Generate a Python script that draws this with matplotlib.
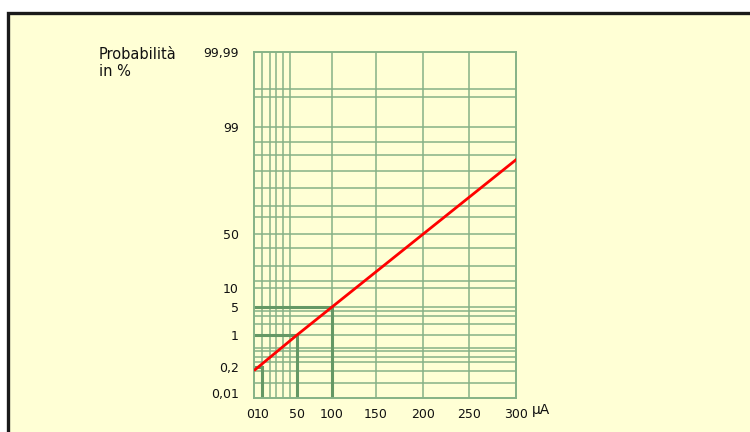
import numpy as np
import matplotlib.pyplot as plt
from matplotlib.patches import Rectangle

# scale calibration of the printed paper (value -> height/offset of the drawn axis)
x_cal_ua = [0, 10, 50, 100, 150, 200, 250, 300]
x_cal_pos = [0, 8, 43, 78, 122, 169, 215, 262]
y_cal_prob = [0, 0.01, 0.2, 1, 5, 10, 50, 99, 99.99]
y_cal_pos = [0, 5, 31, 63, 91, 110, 164, 271, 346]

# ticks
x_ticks = [0, 10, 50, 100, 150, 200, 250, 300]
x_labels = ['0', '10', '50', '100', '150', '200', '250', '300']
y_ticks = [0.01, 0.2, 1, 5, 10, 50, 99, 99.99]
y_labels = ['0,01', '0,2', '1', '5', '10', '50', '99', '99,99']

# paper grid lines
grid_ua = [10, 19, 26, 34, 42, 100, 150, 200, 250]
grid_prob = [99.5, 99.4, 99, 92, 86, 79, 71, 63, 58, 50, 40, 26, 15, 10,
             5, 4.4, 3.7, 2.6, 1, 0.68, 0.6, 0.45, 0.33, 0.17, 0.08]

# the curve and the marked readings
curve_ua = [1.25, 50, 100, 300]
curve_prob = [0.18, 1, 5, 84]
read_ua = [10, 50, 100]
read_prob = [0.2, 1, 5]

GRID = '#86b286'
DARK = '#659865'


def interp_scale(vals, pos):
    fwd = lambda v: np.interp(v, vals, pos)
    inv = lambda p: np.interp(p, pos, vals)
    return fwd, inv


W, H = 750, 432
fig = plt.figure(figsize=(W / 100, H / 100), dpi=100)
fig.patch.set_facecolor('white')

# framed panel
frame = Rectangle((7.5 / W, -0.05), 1.1, 1 - 12.5 / H + 0.05,
                  transform=fig.transFigure, facecolor='#ffffd5',
                  edgecolor='#1a1a1a', lw=2.4, zorder=-5)
fig.add_artist(frame)

ax = fig.add_axes([254 / W, 1 - 398 / H, 262 / W, 346 / H])
ax.set_zorder(2)
ax.set_facecolor('#ffffd5')
ax.set_xscale('function', functions=interp_scale(x_cal_ua, x_cal_pos))
ax.set_yscale('function', functions=interp_scale(y_cal_prob, y_cal_pos))
ax.set_xlim(0, 300)
ax.set_ylim(0, 99.99)

for u in grid_ua:
    ax.axvline(u, color=GRID, lw=1.1, zorder=1)
for p in grid_prob:
    ax.axhline(p, color=GRID, lw=1.1, zorder=1)

for u, p in zip(read_ua, read_prob):
    ax.plot([0, u, u], [p, p, 0], color=DARK, lw=2.2, zorder=2,
            solid_joinstyle='miter')

ax.plot(curve_ua, curve_prob, color='#ff0000', lw=2.0, zorder=3)

for s in ax.spines.values():
    s.set_color(GRID)
    s.set_linewidth(1.4)

ax.set_xticks(x_ticks)
ax.set_xticklabels(x_labels)
ax.set_yticks(y_ticks)
ax.set_yticklabels(y_labels)
ax.minorticks_off()
ax.tick_params(length=0, labelsize=9, colors='#111111')
ax.tick_params(axis='y', pad=11)
ax.tick_params(axis='x', pad=7)
ax.get_xticklabels()[0].set_ha('right')

fig.text(99 / W, 1 - 47 / H, 'Probabilità\nin %', fontsize=10.5,
         color='#111111', va='top', ha='left', linespacing=1.2, zorder=3)
fig.text(532 / W, 1 - 410 / H, 'µA', fontsize=10, color='#111111',
         va='center', ha='left', zorder=3)

fig.savefig('out.png', dpi=100)
